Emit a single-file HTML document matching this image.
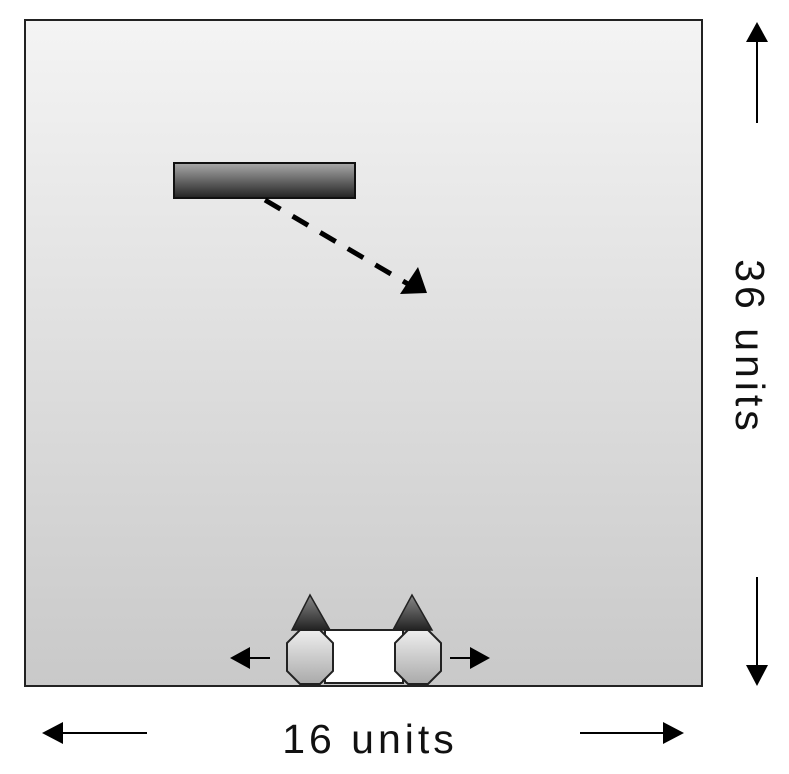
<!DOCTYPE html>
<html><head><meta charset="utf-8"><style>
html,body{margin:0;padding:0;background:#fff;}
svg{display:block;font-family:"Liberation Sans",sans-serif;}
</style></head><body>
<svg width="789" height="774" viewBox="0 0 789 774">
<defs>
<linearGradient id="bg" x1="0" y1="0" x2="0" y2="1"><stop offset="0" stop-color="#f4f4f4"/><stop offset="1" stop-color="#c9c9c9"/></linearGradient>
<linearGradient id="bar" x1="0" y1="0" x2="0" y2="1"><stop offset="0" stop-color="#aaa"/><stop offset="1" stop-color="#222"/></linearGradient>
<linearGradient id="oct" x1="0" y1="0" x2="0" y2="1"><stop offset="0" stop-color="#eee"/><stop offset="1" stop-color="#aaa"/></linearGradient>
<linearGradient id="tri" x1="0" y1="0" x2="0" y2="1"><stop offset="0" stop-color="#888"/><stop offset="1" stop-color="#222"/></linearGradient>
</defs>
<rect x="25" y="20" width="677" height="666" fill="url(#bg)" stroke="#222" stroke-width="2"/>
<rect x="174" y="163" width="181" height="35" fill="url(#bar)" stroke="#111" stroke-width="2"/>
<line x1="265" y1="200" x2="408" y2="284" stroke="#000" stroke-width="5" stroke-dasharray="18,14"/>
<path d="M427,293 L400,294 L418,267 z" fill="#000"/>
<g>
<rect x="325" y="630" width="78" height="53" fill="#fff" stroke="#222" stroke-width="2"/>
<path d="M310,595 L292,630 L330,630 z" fill="url(#tri)" stroke="#222" stroke-width="1.5"/>
<path d="M412,595 L393,630 L432,630 z" fill="url(#tri)" stroke="#222" stroke-width="1.5"/>
<path d="M300,630 L320,630 L333,643 L333,671 L320,684 L300,684 L287,671 L287,643 z" fill="url(#oct)" stroke="#222" stroke-width="2"/>
<path d="M408,630 L428,630 L441,643 L441,671 L428,684 L408,684 L395,671 L395,643 z" fill="url(#oct)" stroke="#222" stroke-width="2"/>
<line x1="248" y1="658" x2="270" y2="658" stroke="#000" stroke-width="2"/>
<path d="M230,658 L250,647 L250,669 z" fill="#000"/>
<line x1="450" y1="658" x2="472" y2="658" stroke="#000" stroke-width="2"/>
<path d="M490,658 L470,647 L470,669 z" fill="#000"/>
</g>
<g>
<line x1="757" y1="40" x2="757" y2="123" stroke="#000" stroke-width="2"/>
<path d="M757,22 L746,42 L768,42 z" fill="#000"/>
<line x1="757" y1="577" x2="757" y2="668" stroke="#000" stroke-width="2"/>
<path d="M757,686 L746,665 L768,665 z" fill="#000"/>
<text x="0" y="0" transform="translate(736,347) rotate(90)" text-anchor="middle" font-size="41" letter-spacing="4" fill="#111">36 units</text>
</g>
<g>
<line x1="60" y1="733" x2="147" y2="733" stroke="#000" stroke-width="2"/>
<path d="M42,733 L63,722 L63,744 z" fill="#000"/>
<line x1="580" y1="733" x2="665" y2="733" stroke="#000" stroke-width="2"/>
<path d="M684,733 L663,722 L663,744 z" fill="#000"/>
<text x="370" y="753" text-anchor="middle" font-size="41" letter-spacing="4" fill="#111">16 units</text>
</g>
</svg>
</body></html>
